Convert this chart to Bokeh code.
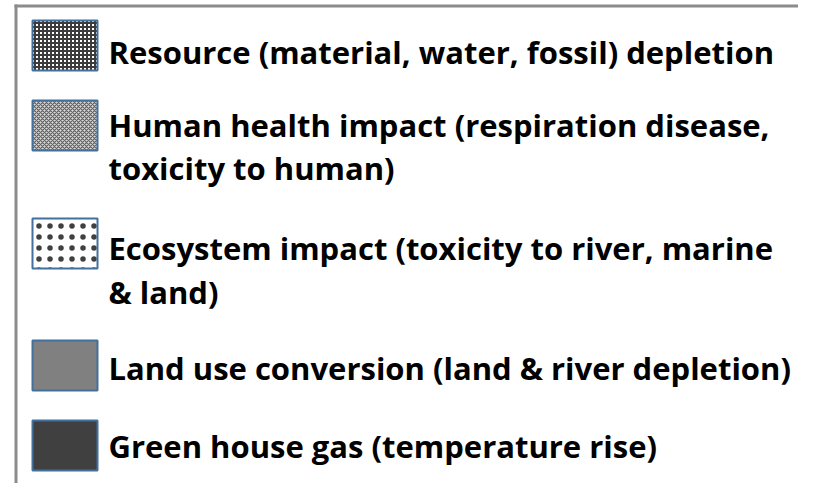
from bokeh.plotting import figure
from bokeh.models import Range1d
from bokeh.core.properties import value
from bokeh.embed import file_html
from bokeh.resources import INLINE

# Legend entries (each entry may wrap onto two lines)
labels = [
    ["Resource (material, water, fossil) depletion"],
    ["Human health impact (respiration disease,", "toxicity to human)"],
    ["Ecosystem impact (toxicity to river, marine", "& land)"],
    ["Land use conversion (land & river depletion)"],
    ["Green house gas (temperature rise)"],
]
fill_colors = ["#ffffff", "#d8d8d8", "#ffffff", "#808080", "#404040"]
hatch_patterns = ["cross", "diagonal_cross", "dot", " ", " "]
hatch_colors = ["#3c3c3c", "#606060", "#404040", "#808080", "#404040"]

W, H = 798, 483
p = figure(width=W, height=H, output_backend="svg", toolbar_location=None,
           x_range=Range1d(0, W), y_range=Range1d(H, 0),
           min_border=0, outline_line_color=None)
p.axis.visible = False
p.grid.visible = False
p.background_fill_color = "white"
p.border_fill_color = "white"

# frame lines (top and left)
p.quad(left=[14], right=[W], top=[4], bottom=[7], fill_color="#8c8c8c", line_color=None)
p.quad(left=[14], right=[17], top=[4], bottom=[H], fill_color="#8c8c8c", line_color=None)

sw_tops = [20, 100, 218, 340, 420]
baselines = [[51], [124, 167], [247, 291], [367], [445]]

for i, lab in enumerate(labels):
    t = sw_tops[i]
    kw = dict(left=[32], right=[97], top=[t], bottom=[t + 50],
              fill_color=fill_colors[i], line_color="#41719c", line_width=2)
    if hatch_patterns[i].strip():
        kw.update(hatch_pattern=hatch_patterns[i], hatch_color=hatch_colors[i],
                  hatch_scale=4 if i < 2 else 11,
                  hatch_weight=[2, 1.2, 0.6][i])
    p.quad(**kw)
    for line, yb in zip(lab, baselines[i]):
        p.text(x=[108], y=[yb], text=[line], text_font=value("Open Sans"),
               text_font_style="bold", text_font_size="31px",
               text_baseline="alphabetic", text_color="#000000")

open("out.html", "w").write(file_html(p, INLINE))
